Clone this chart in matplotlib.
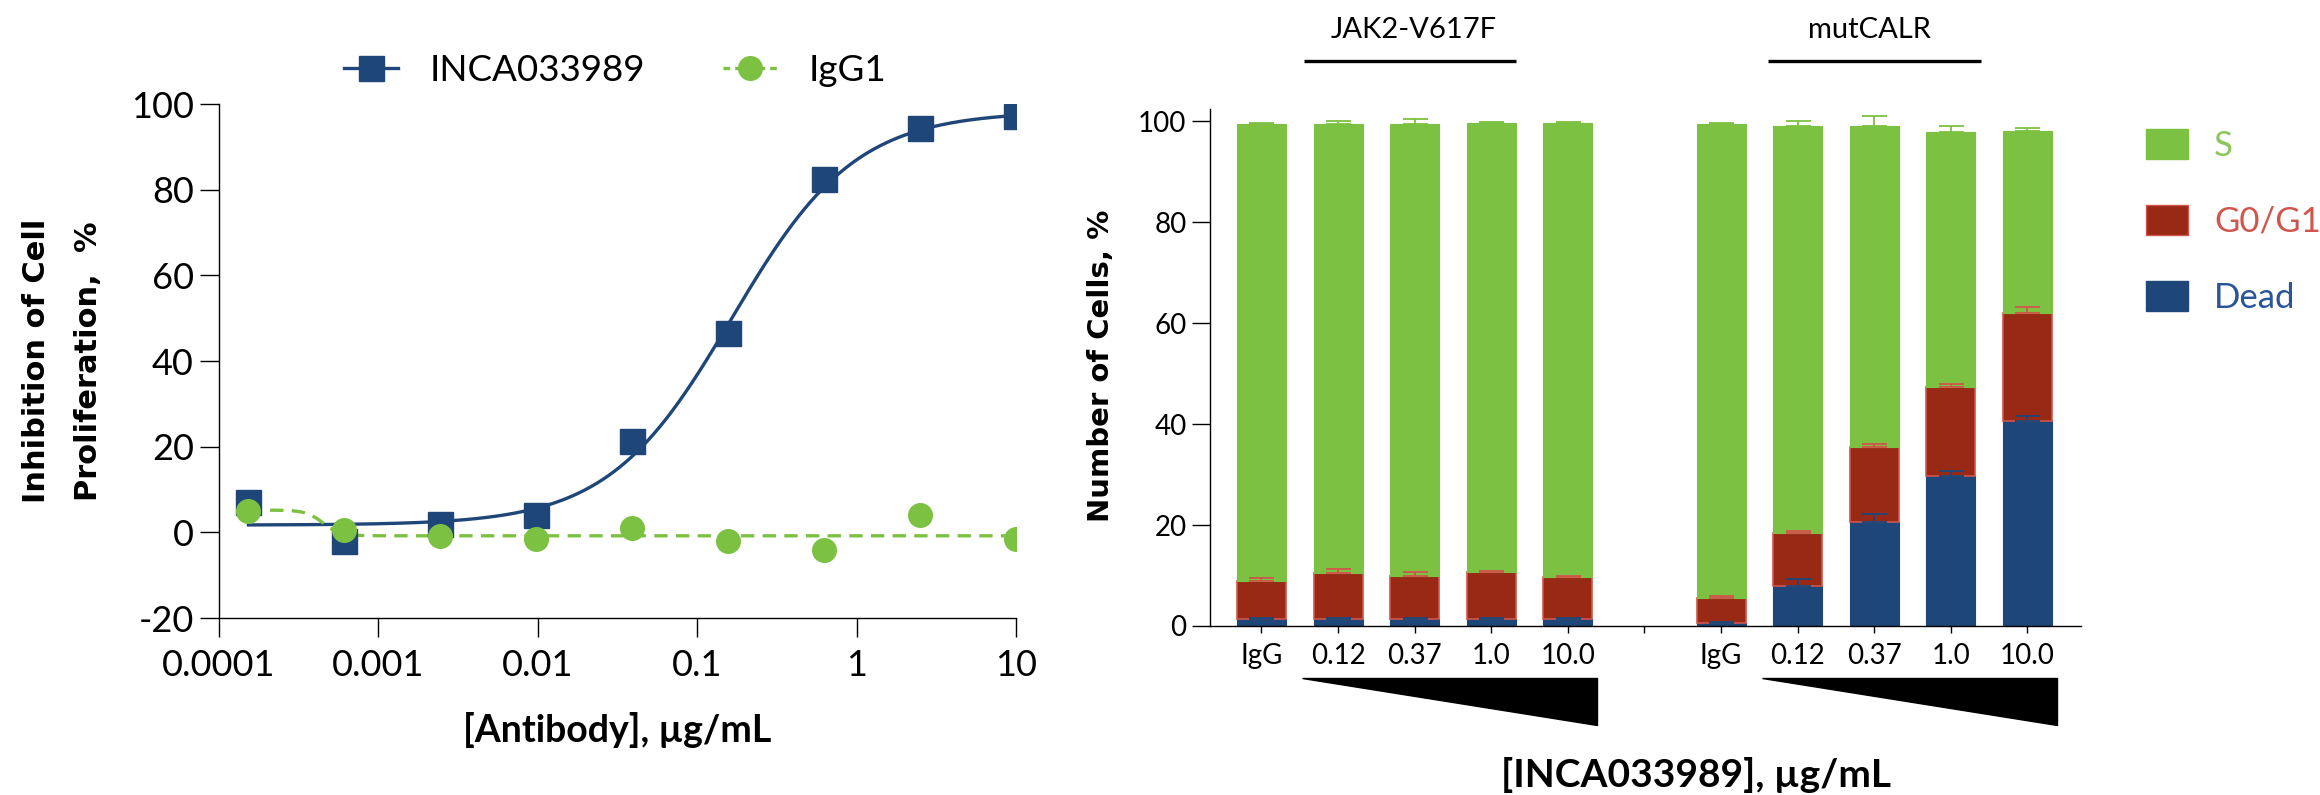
import numpy as np
import matplotlib
matplotlib.use("Agg")
from matplotlib import pyplot as plt
from matplotlib.lines import Line2D
from matplotlib.patches import Patch, Polygon
from matplotlib.ticker import NullLocator

plt.rcParams['font.family'] = ['Lato', 'DejaVu Sans']

# ---- left panel: proliferation dose response ----
conc = [0.000153, 0.00061, 0.00244, 0.00977, 0.039, 0.156, 0.625, 2.5, 10.0]
inca_inhib = [7.1, -1.9, 2.0, 4.0, 21.3, 46.6, 82.5, 94.3, 97.3]
igg1_inhib = [5.1, 0.5, -0.9, -1.5, 1.1, -1.9, -4.1, 4.0, -1.5]
# fitted 4PL curves: bottom, top, EC50, hill slope
inca_fit = (1.7, 98.3, 0.165, 1.12)
igg1_fit = (5.2, -0.8, 0.00045, 8.0)
x_ticks = [0.0001, 0.001, 0.01, 0.1, 1, 10]
x_ticklabels = ["0.0001", "0.001", "0.01", "0.1", "1", "10"]

# ---- right panel: cell cycle distribution ----
dose_labels = ["IgG", "0.12", "0.37", "1.0", "10.0"]
jak2_dead = [1.4, 1.4, 1.4, 1.4, 1.4]
jak2_g0g1 = [7.45, 9.16, 8.5, 9.23, 8.24]
jak2_s = [90.6, 88.9, 89.5, 88.9, 89.9]
jak2_dead_err = [0.2, 0.2, 0.2, 0.2, 0.2]
jak2_g0g1_err = [0.7, 0.65, 0.85, 0.3, 0.3]
jak2_s_err = [0.2, 0.6, 1.0, 0.2, 0.2]
calr_dead = [0.5, 8.0, 20.5, 29.7, 40.6]
calr_g0g1 = [5.0, 10.4, 14.9, 17.6, 21.3]
calr_s = [94.0, 80.7, 63.7, 50.5, 36.2]
calr_dead_err = [0.2, 1.4, 1.6, 0.9, 1.0]
calr_g0g1_err = [0.4, 0.4, 0.7, 0.7, 1.2]
calr_s_err = [0.2, 0.9, 1.9, 1.2, 0.6]

navy = "#1f4679"
green = "#7cc142"
red = "#982914"
red_edge = "#d0554c"


def four_pl(x, bottom, top, ec50, hill):
    return bottom + (top - bottom) / (1 + (ec50 / x) ** hill)


fig = plt.figure(figsize=(23.2, 7.95), dpi=100)

# left
ax = fig.add_axes([0.0944, 0.2226, 0.3435, 0.6465])
xs = np.logspace(np.log10(conc[0]), np.log10(conc[-1]), 400)
ax.plot(xs, four_pl(xs, *inca_fit), color=navy, lw=2.4, zorder=2)
ax.plot(xs, four_pl(xs, *igg1_fit), color=green, lw=2.4, ls=(0, (4, 2.5)), zorder=2)
ax.plot(conc, inca_inhib, ls="none", marker="s", ms=18, color=navy, zorder=3)
ax.plot(conc, igg1_inhib, ls="none", marker="o", ms=17, color=green, zorder=4)

ax.set_xscale("log")
ax.set_xlim(0.0001, 10)
ax.set_ylim(-20, 100)
ax.xaxis.set_minor_locator(NullLocator())
ax.set_xticks(x_ticks, x_ticklabels)
ax.set_yticks(range(-20, 101, 20), [str(v) for v in range(-20, 101, 20)])
for side in ["top", "right"]:
    ax.spines[side].set_visible(False)
for side in ["left", "bottom"]:
    ax.spines[side].set_linewidth(1.0)
ax.tick_params(direction="out", length=14, width=1.0, labelsize=26)
ax.tick_params(axis="x", pad=8)
ax.tick_params(axis="y", pad=4)
ax.set_xlabel("[Antibody], µg/mL", fontsize=27, fontweight="bold", labelpad=22)
fig.text(0.027, 0.546, "Inhibition of Cell\nProliferation,  %", rotation=90,
         ha="center", va="center", multialignment="center", fontsize=22,
         fontweight="bold", family="DejaVu Sans", linespacing=2.0)

handles = [Line2D([], [], color=navy, lw=2.4, marker="s", ms=18),
           Line2D([], [], color=green, lw=2.4, ls=(0, (2, 1.5)), marker="o", ms=17)]
ax.legend(handles, ["INCA033989", "IgG1"], ncol=2, loc="center",
          bbox_to_anchor=(0.497, 1.066), frameon=False, fontsize=26.5,
          handlelength=1.47, handletextpad=0.87, columnspacing=2.1)

# right
bx = fig.add_axes([0.5216, 0.2126, 0.3754, 0.6503])
width = 0.64
groups = [(np.arange(5), jak2_dead, jak2_g0g1, jak2_s, jak2_dead_err, jak2_g0g1_err, jak2_s_err),
          (np.arange(5) + 6, calr_dead, calr_g0g1, calr_s, calr_dead_err, calr_g0g1_err, calr_s_err)]
for pos, dead, g0g1, s, e_dead, e_g0g1, e_s in groups:
    dead = np.array(dead)
    g0g1 = np.array(g0g1)
    s = np.array(s)
    bx.bar(pos, dead, width, color=navy, edgecolor=navy, lw=0.8, zorder=2)
    bx.bar(pos, g0g1, width, bottom=dead, color=red, edgecolor=red_edge, lw=1.2, zorder=2)
    bx.bar(pos, s, width, bottom=dead + g0g1, color=green, edgecolor=green, lw=0.8, zorder=2)
    zeros = np.zeros(len(pos))
    for top, err, col in [(dead, e_dead, navy), (dead + g0g1, e_g0g1, red_edge),
                          (dead + g0g1 + s, e_s, green)]:
        bx.errorbar(pos, top, yerr=[zeros, err], fmt="none", ecolor=col,
                    elinewidth=1.3, capsize=9, capthick=1.3, zorder=3)

bx.set_xlim(-0.67, 10.7)
bx.set_ylim(0, 102.4)
bx.set_xticks(range(11), dose_labels + [""] + dose_labels)
bx.set_yticks(range(0, 101, 20))
for side in ["top", "right"]:
    bx.spines[side].set_visible(False)
for side in ["left", "bottom"]:
    bx.spines[side].set_linewidth(1.0)
bx.tick_params(axis="y", direction="out", length=13, width=1.0, labelsize=20, pad=4)
bx.tick_params(axis="x", direction="out", length=5, width=1.0, labelsize=20, pad=7)
fig.text(0.4746, 0.540, "Number of Cells, %", rotation=90, ha="center", va="center",
         fontsize=21, fontweight="bold", family="DejaVu Sans")
fig.text(0.731, 0.025, "[INCA033989], µg/mL", ha="center", va="center",
         fontsize=28, fontweight="bold")

# group headers and dose wedges
for name, off, text_x, line_x in [("JAK2-V617F", 0, 1.99, (0.55, 3.32)),
                                  ("mutCALR", 6, 1.94, (0.61, 3.40))]:
    bx.text(off + text_x, 118, name, ha="center", va="center", fontsize=21, clip_on=False)
    bx.plot([off + line_x[0], off + line_x[1]], [111.9, 111.9], color="black", lw=2.4,
            clip_on=False, solid_capstyle="butt")
    wedge = Polygon([(off + 0.53, -10.3), (off + 4.38, -10.3), (off + 4.38, -19.6)],
                    closed=True, color="black", clip_on=False)
    bx.add_patch(wedge)

leg = bx.legend([Patch(facecolor=green, edgecolor=green),
                 Patch(facecolor=red, edgecolor=red_edge),
                 Patch(facecolor=navy, edgecolor=navy)],
                ["S", "G0/G1", "Dead"], loc="upper left", bbox_to_anchor=(1.075, 0.962),
                frameon=False, fontsize=25, handlelength=1.2, handleheight=0.95,
                labelspacing=1.25, handletextpad=0.75, borderpad=0, borderaxespad=0)
for txt, col in zip(leg.get_texts(), ["#8cc65a", "#d0554c", "#2a5598"]):
    txt.set_color(col)

fig.savefig("out.png", dpi=100)
